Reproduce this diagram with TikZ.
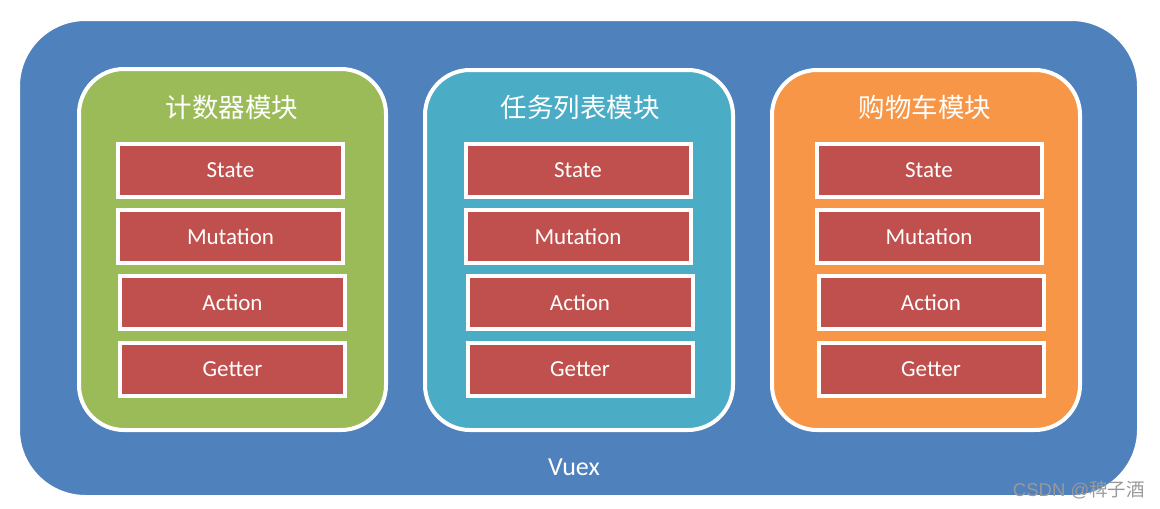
\documentclass[tikz,border=0pt]{standalone}
\usepackage{fontspec}
\setmainfont{Carlito}
\newfontfamily\cjk{Noto Sans CJK SC}
\newfontfamily\wmfont{Liberation Sans}
\usetikzlibrary{shadows}
\definecolor{vblue}{HTML}{4F81BD}
\definecolor{vgreen}{HTML}{9BBB59}
\definecolor{vcyan}{HTML}{4BACC6}
\definecolor{vorange}{HTML}{F79646}
\definecolor{vred}{HTML}{C0504D}
\tikzset{
  outerbox/.style={draw=white, line width=5pt, fill=vblue, rounded corners=68pt,
    drop shadow={shadow xshift=1pt, shadow yshift=-2pt, opacity=0.25}},
  modbox/.style={draw=white, line width=4pt, rounded corners=45pt,
    drop shadow={shadow xshift=1pt, shadow yshift=-2pt, opacity=0.25}},
  item/.style={draw=white, line width=4pt, fill=vred, minimum width=225pt, minimum height=53pt,
    inner sep=0pt, text=white, font=\fontsize{23}{26}\selectfont,
    drop shadow={shadow xshift=1pt, shadow yshift=-2pt, opacity=0.3}},
  modtitle/.style={text=white, font=\cjk\fontsize{26.5}{30}\selectfont, inner sep=0pt},
}
\begin{document}
\begin{tikzpicture}[x=1pt,y=-1pt]
\useasboundingbox (0,0) rectangle (1160,509);
\fill[white] (0,0) rectangle (1160,509);
\draw[outerbox] (17.5,18.5) rectangle (1139.5,497.5);
\node[text=white, font=\fontsize{26}{30}\selectfont, inner sep=0pt] (vuex) at (574,467) {Vuex};

\draw[modbox, fill=vgreen] (79,69) rectangle (386,430);
\draw[modbox, fill=vcyan] (425,70) rectangle (733,430);
\draw[modbox, fill=vorange] (772,70) rectangle (1080,430);

\node[modtitle] (t1) at (232,107) {计数器模块};
\node[modtitle] (t2) at (580,107) {任务列表模块};
\node[modtitle] (t3) at (925,107) {购物车模块};

\node[item] (s1) at (230.5,170) {State};
\node[item] (m1) at (230.5,236.5) {Mutation};
\node[item] (a1) at (232.5,302.5) {Action};
\node[item] (g1) at (232.5,369.5) {Getter};

\node[item] (s2) at (578,170) {State};
\node[item] (m2) at (578,236.5) {Mutation};
\node[item] (a2) at (580,302.5) {Action};
\node[item] (g2) at (580,369.5) {Getter};

\node[item] (s3) at (929,170) {State};
\node[item] (m3) at (929,236.5) {Mutation};
\node[item] (a3) at (931,302.5) {Action};
\node[item] (g3) at (931,369.5) {Getter};

\node[text=black!40, font=\fontsize{18.5}{22}\selectfont, inner sep=0pt, anchor=east] (wm) at (1145,490) {\wmfont CSDN @\cjk 稗子酒};
\end{tikzpicture}
\end{document}
